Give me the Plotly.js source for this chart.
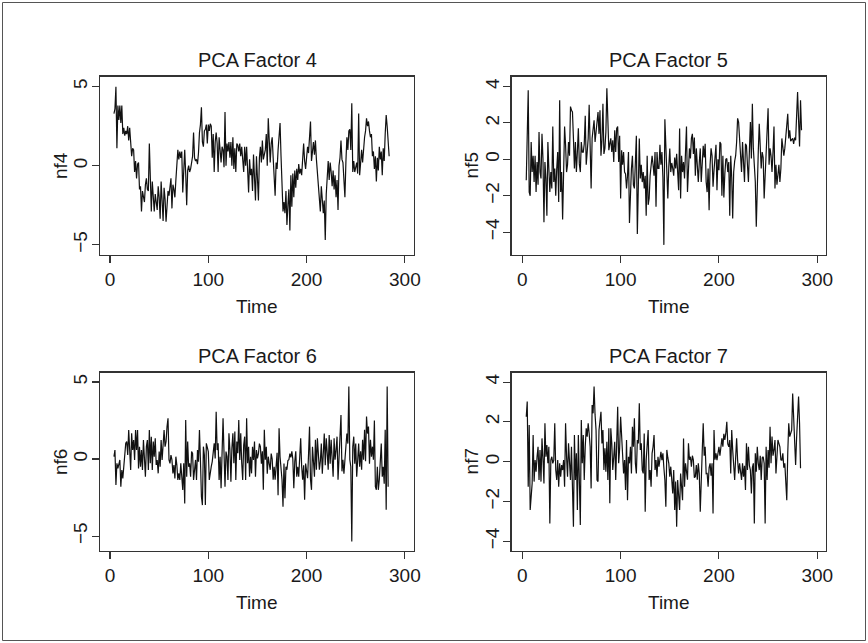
<!DOCTYPE html>
<html>
<head>
<meta charset="utf-8">
<script src="https://cdn.plot.ly/plotly-3.0.1.min.js"></script>
<style>
  html, body { margin: 0; padding: 0; background: #ffffff; }
  #chart { width: 868px; height: 643px; }
</style>
</head>
<body>
<div id="chart"></div>
<script>
// ---------------- DATA ----------------
const panelTitles = ["PCA Factor 4", "PCA Factor 5", "PCA Factor 6", "PCA Factor 7"];
const yLabels = ["nf4", "nf5", "nf6", "nf7"];
const xLabel = "Time";
const timeStart = 4;
const xTicks = [0, 100, 200, 300];
const yTicks4 = [-5, 0, 5];
const yTicks5 = [-4, -2, 0, 2, 4];
const yTicks6 = [-5, 0, 5];
const yTicks7 = [-4, -2, 0, 2, 4];

const nf4 = [
  3.3,3.6,5.0,1.1,3.8,2.9,3.8,2.7,3.8,2.0,
  2.4,1.9,2.2,2.0,2.5,1.6,2.4,1.3,0.6,1.1,
  1.0,-0.4,0.3,-0.8,0.1,0.2,-1.5,-1.3,-2.9,-1.6,
  -1.9,-2.3,-1.2,-0.8,-1.5,-1.6,1.4,-0.5,-2.9,-1.0,
  -2.1,-2.9,-1.8,-2.3,-2.8,-1.3,-2.0,-3.35,-1.0,-2.2,
  -3.5,-1.4,-2.1,-3.55,-2.4,-1.6,-1.9,-1.2,-0.8,-2.7,
  -1.2,-1.5,-2.0,-0.9,0.6,1.0,0.4,0.9,0.5,0.9,
  -1.7,-0.2,1.0,-0.5,-2.5,-0.3,0.0,-0.4,-0.2,0.2,
  0.6,2.1,0.5,0.3,0.4,0.1,0.8,2.1,2.6,3.7,
  1.5,1.2,2.2,2.3,2.6,1.4,2.6,2.2,2.65,2.5,
  0.5,2.0,-0.4,1.5,2.1,1.4,-0.4,1.8,0.6,0.2,
  1.2,1.0,-0.1,3.4,0.0,1.4,0.9,1.5,0.5,1.5,
  0.0,1.8,-0.2,1.1,-0.4,1.4,1.3,0.9,1.4,0.6,
  1.2,0.2,-0.4,1.2,0.0,1.2,-1.0,-1.7,0.4,-0.6,
  -0.2,-1.6,0.7,-0.4,-2.2,0.6,-1.4,-2.2,0.5,1.2,
  0.2,1.6,0.4,0.8,1.0,2.0,0.0,3.0,1.0,0.2,
  1.4,1.8,0.5,-0.6,-1.9,0.2,-0.2,1.0,2.0,2.7,
  0.6,-0.8,-2.9,-2.3,-3.0,-1.6,-3.75,-2.5,-1.5,-4.1,
  -0.6,-2.6,-0.5,-2.0,-0.3,-1.4,-0.2,-0.9,0.1,-0.5,
  -0.2,-0.6,0.6,1.4,0.3,-0.2,0.5,1.2,0.8,1.6,
  2.8,0.3,0.8,1.5,0.7,1.6,0.4,-0.5,-1.1,-2.0,
  -2.9,-1.3,-2.6,-3.0,-2.2,-4.7,-1.8,-0.7,0.3,-0.9,
  0.2,-0.4,-1.3,-0.3,-1.5,-0.6,-2.0,-0.9,-2.8,0.0,
  0.5,1.6,0.4,0.2,-0.6,-2.0,0.2,1.8,1.0,2.2,
  2.3,1.0,3.95,-0.4,0.3,-0.4,-0.1,0.2,-0.5,3.3,
  -0.6,0.3,1.0,0.2,1.2,1.8,2.2,3.0,2.5,2.8,
  2.2,1.8,2.0,0.6,0.9,-0.2,0.6,-1.0,0.5,-0.3,
  1.2,0.4,0.9,-0.6,1.1,0.3,2.0,3.2,2.5,1.6,
  0.6
];

const nf5 = [
  -1.15,1.5,3.8,-1.8,-2.0,0.95,-0.7,0.2,-1.25,0.2,
  -1.8,-0.15,-1.4,1.5,-0.7,-1.05,1.4,0.05,-3.45,-0.15,
  -1.05,-3.1,0.95,-0.5,-1.8,-0.7,-1.6,1.8,-1.25,-0.5,
  -2.0,-0.5,0.4,-2.35,3.25,-1.8,-0.7,-3.3,0.8,1.8,
  0.8,-0.7,-0.3,0.95,0.2,2.9,2.7,2.6,1.15,-0.5,
  0.95,-0.7,0.4,1.7,-0.25,-0.7,0.95,0.4,0.4,0.85,
  2.4,-0.3,0.4,1.15,3.0,0.95,-1.6,1.15,1.7,2.15,
  0.95,1.4,2.05,2.6,1.4,2.7,0.2,1.05,3.05,0.3,
  0.6,1.5,3.9,1.4,0.5,0.85,1.15,0.4,1.05,-0.15,
  1.6,0.4,1.7,1.8,-0.15,1.3,-2.15,0.5,-0.3,0.4,
  -0.7,-0.8,-1.6,-0.9,0.4,-3.5,-1.25,-0.5,0.2,-1.4,
  -1.6,0.3,1.3,-4.1,-0.7,1.15,-1.05,-0.3,-1.25,-0.7,
  -1.6,-0.9,-3.1,0.2,-2.5,-2.15,-0.9,-0.15,0.2,-0.3,
  -0.9,0.4,-2.6,0.4,-0.5,
  -0.5,0.8,-0.3,0.4,-1.0,-4.7,2.2,0.3,-0.5,-2.15,
  -0.4,0.6,-0.7,-0.2,-0.5,-0.9,0.1,-0.5,0.3,-1.05,
  -1.7,1.7,-2.15,0.2,-0.7,-0.15,-1.05,0.4,1.8,-1.8,
  -0.15,0.6,0.05,1.15,1.4,0.3,1.2,-0.9,0.6,-0.6,
  -1.25,-0.2,0.6,-1.25,-0.5,0.75,0.1,0.85,-1.25,-1.8,
  -0.5,-2.8,-0.3,0.6,0.2,-1.5,-0.6,0.0,0.8,-1.7,
  0.0,-0.6,0.95,0.85,-2.0,0.2,-2.1,-0.8,0.0,0.05,
  -0.7,-0.15,-3.1,0.2,-1.0,-3.25,-0.7,-0.1,0.2,0.95,
  2.25,2.05,1.15,0.2,-0.7,0.95,-0.3,-1.25,0.85,0.75,
  -0.3,-1.25,0.5,2.05,0.05,3.05,0.6,-0.4,-1.25,-3.7,
  -1.05,0.4,1.95,0.05,-0.5,0.4,0.1,-2.15,-0.8,-0.15,
  0.95,2.8,-0.3,0.6,0.2,-0.7,0.4,1.8,-1.6,-0.3,
  -1.4,-0.9,-0.3,-1.25,-0.5,1.15,0.5,0.2,0.6,1.3,
  2.05,2.5,1.15,1.6,1.0,1.05,1.15,0.85,1.2,1.05,
  2.25,3.7,2.15,0.7,3.25,1.6
];

const nf6 = [
  0.15,0.58,-1.69,-0.28,-0.61,-0.17,-0.06,-1.8,-0.71,-1.26,
  -0.5,0.8,1.02,1.13,0.26,1.88,0.8,-0.71,1.67,0.58,
  1.23,-0.06,1.88,0.58,1.88,-0.61,0.8,-0.5,0.58,-0.71,
  1.23,-0.17,-1.15,0.8,1.23,-0.71,1.88,-0.28,1.45,-0.71,
  1.13,0.15,1.34,-0.39,-0.06,-0.93,0.48,-0.5,1.23,-0.06,
  0.8,1.88,0.8,1.13,2.1,2.64,-0.06,-0.28,0.26,-0.06,
  -0.93,-0.39,-1.26,0.15,-0.39,-1.36,-0.93,-1.36,-0.28,-1.15,
  -2.01,-0.28,-2.88,2.53,-1.15,1.13,-0.5,-0.28,-1.15,0.48,
  0.37,-1.36,-0.82,-0.06,-1.36,0.58,-0.17,1.88,-0.06,-2.45,
  -2.99,0.8,0.26,-2.99,1.02,0.8,0.48,-1.36,-0.82,-0.5,
  -0.17,0.37,1.02,0.04,3.07,0.58,1.02,-1.36,0.15,-1.9,
  0.69,2.64,0.37,-1.8,0.48,0.15,-1.36,1.67,0.58,-1.47,
  0.69,1.67,-0.28,1.78,-1.36,1.13,0.37,2.53,-0.06,1.67,
  -0.28,-1.36,0.91,1.45,-1.36,2.64,-0.28,0.8,-1.15,0.15,
  -0.93,0.8,-0.06,1.13,-1.15,0.58,0.04,
  0.35,1.0,0.8,-0.3,0.5,-2.0,1.9,-0.05,0.8,-0.95,
  0.15,-0.3,-0.7,0.35,0.0,-1.35,-0.5,-1.35,-0.5,0.4,
  -2.35,2.0,0.15,-0.5,-1.35,-3.1,-0.3,-2.55,-0.5,-0.7,
  -0.1,-0.05,0.35,0.1,0.5,0.0,-1.9,-0.15,0.5,-1.15,
  -0.5,-1.15,0.2,1.35,-0.5,-1.35,-0.4,-2.65,-0.3,-0.95,
  -1.25,0.3,2.1,-1.35,-2.0,0.8,-0.3,-1.15,1.25,-0.7,
  1.35,-0.05,-0.7,-0.15,1.0,-0.95,0.2,1.65,-0.4,1.35,
  0.4,-0.7,1.55,-0.3,1.25,0.1,-1.15,1.35,-0.05,0.6,
  1.45,-1.35,0.5,1.75,2.85,-0.8,-0.05,-0.95,0.3,0.8,
  1.65,1.0,4.7,-0.05,-0.5,-5.35,0.8,1.45,-0.3,1.0,
  -1.15,-0.05,1.0,-0.5,0.5,-0.7,1.25,-0.05,1.9,-0.15,
  2.75,1.65,2.1,-0.3,1.25,0.15,0.8,-0.05,2.5,-1.8,
  -2.0,-0.5,-2.0,-1.35,-0.3,1.0,-1.15,-0.5,-1.6,1.9,
  -3.3,4.7,-1.8
];

const nf7 = [
  2.26,3.02,-1.26,1.84,-2.43,-1.42,-1.09,1.34,-1.0,0.08,
  -0.5,0.25,0.75,-0.92,0.59,-1.0,1.17,0.17,-1.09,1.93,
  0.25,0.84,-0.08,0.75,-3.1,0.08,0.25,-0.08,0.08,1.93,
  -0.42,-0.92,0.08,-1.26,-0.08,-0.75,-0.17,-0.42,0.08,-1.26,
  1.93,0.25,-0.75,0.92,-0.42,-0.92,0.75,-1.68,-3.27,1.34,
  -0.92,0.42,-2.43,1.34,-0.42,-3.18,2.09,-0.08,1.34,-0.92,
  0.75,1.68,1.26,1.93,1.42,0.75,-1.34,2.85,2.43,3.77,
  2.35,1.59,-0.92,-1.0,1.59,1.93,2.51,0.92,1.59,-0.42,
  0.67,-0.5,1.0,-0.92,1.68,-2.09,1.68,0.92,-0.42,0.25,
  1.0,-0.92,1.09,2.76,-0.08,0.67,2.26,1.42,0.25,-0.59,
  0.08,-1.42,1.09,-1.93,0.25,-0.08,0.75,-0.59,1.76,0.75,
  2.18,-0.08,-0.59,1.09,0.92,2.93,0.59,0.92,-0.42,-0.59,
  1.42,-2.51,0.08,0.75,1.59,-0.92,-0.42,-1.26,0.42,0.75,
  1.34,-0.42,0.08,-0.75,0.25,
  -0.25,0.08,0.5,0.08,0.42,-0.3,-0.92,-2.26,0.59,0.2,
  -0.08,-0.75,-0.25,-0.9,-1.59,-0.42,-2.43,-1.0,-3.27,-0.92,
  -1.76,-2.43,-0.59,-1.2,-1.93,1.17,-1.26,-0.08,-0.42,-0.9,
  0.92,0.1,0.25,-0.25,0.3,0.08,-0.8,-0.75,-0.17,-0.9,
  -0.08,-0.6,-2.51,-0.25,0.5,1.93,0.3,0.75,-0.6,-0.59,
  -1.26,-0.3,-0.08,-0.7,-0.08,-2.6,1.59,0.1,0.42,0.08,
  0.59,0.75,0.3,0.92,1.17,0.75,1.4,1.09,1.42,2.01,
  0.9,0.75,1.09,-0.59,1.59,0.59,-0.08,-0.92,0.2,1.17,
  0.08,-0.59,-0.08,-0.5,-0.92,-0.08,-0.75,-0.2,-1.42,0.92,
  -0.42,0.75,-0.2,-0.42,-1.59,-0.3,-0.08,-3.1,0.42,-0.5,
  0.75,-0.08,-0.42,0.3,-0.92,0.2,0.25,-0.08,-3.1,0.75,
  -0.92,0.59,-0.3,1.76,-0.08,1.26,0.3,0.59,1.09,-0.59,
  0.6,1.09,0.92,0.75,0.1,0.08,0.42,-0.3,-0.08,-1.26,
  -1.93,0.42,1.93,1.26,1.42,1.59,3.43,1.93,0.42,-0.17,
  1.2,2.51,3.27,1.93,-0.33
];

// ---------------- LAYOUT ----------------
const W = 868, H = 643;
const FONT = "Liberation Sans, Arial, Helvetica, sans-serif";
const px = v => v / W;
const py = v => 1 - v / H;

// plot boxes in pixels: [left, right, top, bottom]
const boxes = [
  [100.3, 414.0, 76.7, 254.7],
  [511.7, 825.7, 76.7, 254.7],
  [100.3, 414.0, 372.7, 550.7],
  [511.7, 825.7, 372.7, 550.7]
];
const xRanges = [[-9.9, 309.3], [-10.8, 308.6], [-9.9, 309.3], [-10.8, 308.6]];
const yRanges = [[-5.63, 5.63], [-5.24, 4.54], [-5.95, 5.6], [-4.47, 4.47]];
const series = [nf4, nf5, nf6, nf7];
const yTickSets = [yTicks4, yTicks5, yTicks6, yTicks7];

const traces = [];
const layout = {
  width: W, height: H,
  margin: {l: 0, r: 0, t: 0, b: 0},
  paper_bgcolor: "#ffffff",
  plot_bgcolor: "#ffffff",
  showlegend: false,
  font: {family: FONT, size: 19, color: "#1a1a1a"},
  annotations: [],
  shapes: [{
    type: "rect", xref: "paper", yref: "paper",
    x0: px(2.5), x1: px(865.5), y0: py(640.5), y1: py(2.5),
    line: {color: "#555555", width: 1}
  }]
};

series.forEach((vals, i) => {
  const n = i + 1;
  const xa = n === 1 ? "x" : "x" + n;
  const ya = n === 1 ? "y" : "y" + n;
  const times = vals.map((_, k) => timeStart + k);
  traces.push({
    type: "scatter", mode: "lines",
    x: times, y: vals,
    xaxis: xa, yaxis: ya,
    line: {color: "#111111", width: 1.2},
    hoverinfo: "skip"
  });
  const [L, R, T, B] = boxes[i];
  const axCommon = {
    showgrid: false, zeroline: false,
    showline: true, mirror: true,
    linecolor: "#333333", linewidth: 1.3,
    ticks: "outside", ticklen: 7, tickwidth: 1.1, tickcolor: "#333333",
    tickfont: {family: FONT, size: 19, color: "#1a1a1a"},
    fixedrange: true
  };
  layout[n === 1 ? "xaxis" : "xaxis" + n] = Object.assign({}, axCommon, {
    domain: [px(L), px(R)],
    range: xRanges[i],
    tickmode: "array", tickvals: xTicks, ticktext: xTicks.map(String),
    anchor: ya
  });
  layout[n === 1 ? "yaxis" : "yaxis" + n] = Object.assign({}, axCommon, {
    domain: [py(B), py(T)],
    range: yRanges[i],
    tickmode: "array", tickvals: yTickSets[i],
    ticktext: yTickSets[i].map(v => v < 0 ? "\u2212" + Math.abs(v) : String(v)),
    tickangle: -90,
    ticklabelstandoff: -3,
    anchor: xa
  });
  // panel title
  layout.annotations.push({
    xref: "paper", yref: "paper",
    x: px((L + R) / 2), y: py(T - 17),
    xanchor: "center", yanchor: "middle",
    text: panelTitles[i], showarrow: false,
    font: {family: FONT, size: 20, color: "#1a1a1a"}
  });
  // x label
  layout.annotations.push({
    xref: "paper", yref: "paper",
    x: px((L + R) / 2), y: py(B + 52),
    xanchor: "center", yanchor: "middle",
    text: xLabel, showarrow: false,
    font: {family: FONT, size: 19, color: "#1a1a1a"}
  });
  // y label
  layout.annotations.push({
    xref: "paper", yref: "paper",
    x: px(L - 40), y: py((T + B) / 2),
    xanchor: "center", yanchor: "middle",
    text: yLabels[i], showarrow: false, textangle: -90,
    font: {family: FONT, size: 19, color: "#1a1a1a"}
  });
});

Plotly.newPlot("chart", traces, layout, {staticPlot: true, displayModeBar: false});
</script>
</body>
</html>
